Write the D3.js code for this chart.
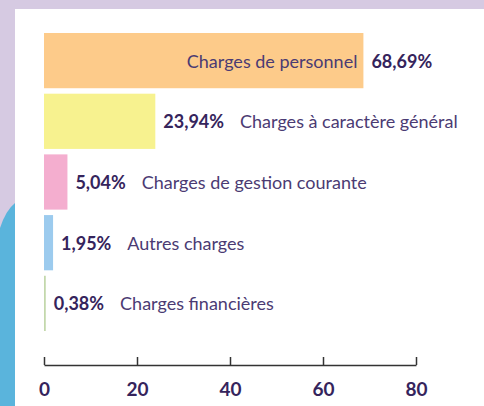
<!DOCTYPE html>
<html>
    <head>
        <meta charset="UTF-8">
        <script src="https://d3js.org/d3.v7.min.js"></script>
        <style>
            body { margin: 0; }
        </style>
    </head>

    <body>

        <svg id="canvas"></svg>

        <script>

            categories = ["Charges de personnel", "Charges à caractère général", "Charges de gestion courante", "Autres charges", "Charges financières"];
            values = [68.69, 23.94, 5.04, 1.95, 0.38];
            valueLabels = ["68,69%", "23,94%", "5,04%", "1,95%", "0,38%"];
            colors = ["#fdcb8a", "#f7f28f", "#f4aecf", "#9ccbee", "#c3d8ac"];
            ticks = [0, 20, 40, 60, 80];

            width = 484;
            height = 406;
            dark = "#35245c";
            light = "#4b3b73";
            font = "Lato, 'Open Sans', sans-serif";

            canvas = d3.select("#canvas")
                .attr("width", width)
                .attr("height", height);

            // backdrop around the white panel
            canvas.append("rect")
                .attr("width", width).attr("height", height)
                .attr("fill", "#d6cae2");
            canvas.append("path")
                .attr("d", "M0,228 Q6,210 15,203 L15,406 L0,406 Z")
                .attr("fill", "#5ab4dc");
            canvas.append("rect")
                .attr("x", 15).attr("y", 9)
                .attr("width", width - 15).attr("height", height - 9)
                .attr("fill", "#ffffff");

            xscale = d3.scaleLinear()
                .domain([0, 80])
                .range([44, 416]);

            yscale = d3.scaleBand()
                .domain(categories)
                .range([33, 331])
                .paddingInner(0.09)
                .paddingOuter(0);

            rows = canvas.selectAll(".row")
                .data(categories)
                .enter().append("g")
                .attr("class", "row");

            rows.append("rect")
                .attr("x", xscale(0))
                .attr("y", d => yscale(d))
                .attr("width", (d, i) => xscale(values[i]) - xscale(0))
                .attr("height", yscale.bandwidth())
                .attr("fill", (d, i) => colors[i]);

            rows.each(function(d, i) {
                g = d3.select(this);
                cy = yscale(d) + yscale.bandwidth() / 2 + 7;
                xend = xscale(values[i]);
                val = g.append("text")
                    .attr("x", xend + 8)
                    .attr("y", cy)
                    .attr("font-family", font)
                    .attr("font-weight", "bold")
                    .attr("font-size", 18)
                    .attr("fill", dark)
                    .text(valueLabels[i]);
                if (i == 0) {
                    g.append("text")
                        .attr("x", xend - 6)
                        .attr("y", cy)
                        .attr("text-anchor", "end")
                        .attr("font-family", font)
                        .attr("font-size", 18)
                        .attr("fill", light)
                        .text(d);
                } else {
                    w = val.node().getComputedTextLength();
                    g.append("text")
                        .attr("x", xend + 8 + w + 16)
                        .attr("y", cy)
                        .attr("font-family", font)
                        .attr("font-size", 18)
                        .attr("fill", light)
                        .text(d);
                }
            });

            axis = canvas.append("g")
                .attr("transform", "translate(0,365)")
                .call(d3.axisBottom(xscale)
                    .tickValues(ticks)
                    .tickFormat(d3.format("d"))
                    .tickSizeInner(-8)
                    .tickSizeOuter(0));

            axis.select(".domain")
                .attr("stroke", "#333")
                .attr("stroke-width", 1.5);
            axis.selectAll(".tick line")
                .attr("stroke", "#333")
                .attr("stroke-width", 1.5);
            axis.selectAll(".tick text")
                .attr("y", 31)
                .attr("dy", 0)
                .attr("font-family", font)
                .attr("font-weight", "bold")
                .attr("font-size", 19)
                .attr("fill", dark);

        </script>

    </body>

</html>
